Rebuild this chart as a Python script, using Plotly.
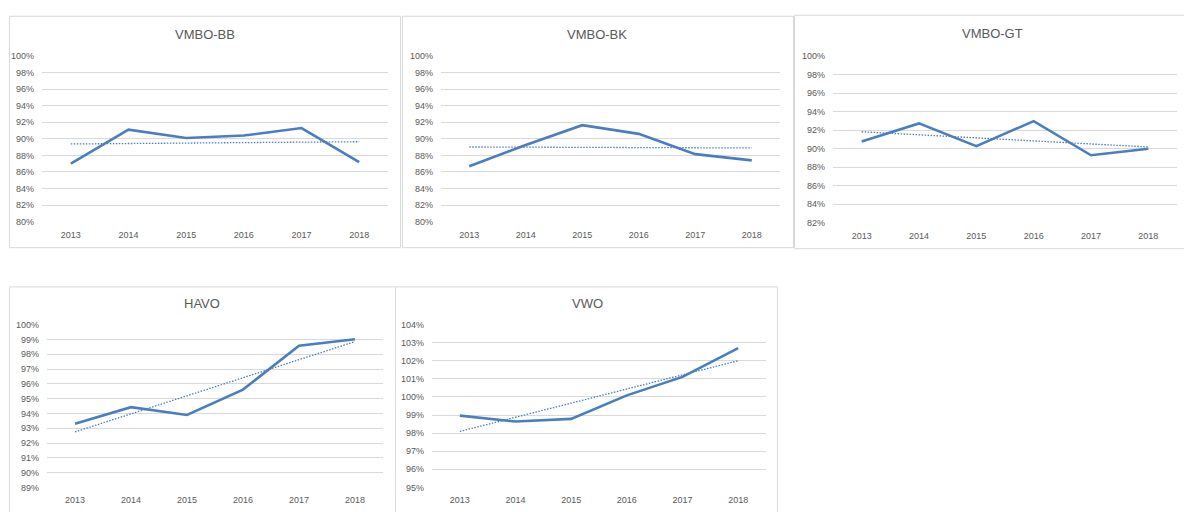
import numpy as np
import plotly.graph_objects as go

years = ["2013", "2014", "2015", "2016", "2017", "2018"]

titles = ["VMBO-BB", "VMBO-BK", "VMBO-GT", "HAVO", "VWO"]
vmbo_bb = [87.0, 91.1, 90.1, 90.4, 91.3, 87.2]
vmbo_bk = [86.7, 89.25, 91.65, 90.6, 88.15, 87.4]
vmbo_gt = [90.76, 92.72, 90.26, 92.97, 89.28, 89.98]
havo = [93.3, 94.42, 93.89, 95.61, 98.57, 99.01]
vwo = [98.97, 98.64, 98.79, 100.09, 101.11, 102.70]
series = [vmbo_bb, vmbo_bk, vmbo_gt, havo, vwo]

y_ranges = [(80, 100, 2), (80, 100, 2), (82, 100, 2), (89, 100, 1), (95, 104, 1)]

W, H = 1184, 512
plot_px = [(42, 388, 52, 221), (441, 780, 52, 221), (833, 1177, 52, 222),
           (47, 383, 326, 492), (432, 766, 326, 492)]
border_px = [(9.5, 400.5, 11.5, 247.5), (402.5, 793.5, 11.5, 247.5), (794.5, 1190, 10.5, 248.5),
             (9.5, 395.5, 287.5, 530), (395.5, 777.5, 287.5, 530)]
title_px = [(205, 30), (597, 30), (992, 29), (202, 304), (587, 304)]

LINE = "#4A7EBF"
GRID = "#D9D9D9"
TXT = "#595959"
FONT = "Liberation Sans"

fig = go.Figure()
layout = dict(width=W, height=H, margin=dict(l=0, r=0, t=0, b=0, pad=0),
              paper_bgcolor="white", plot_bgcolor="white", showlegend=False,
              font=dict(family=FONT, size=9, color=TXT))
shapes = []
annotations = []
xi = np.arange(len(years))
for i, vals in enumerate(series):
    k = "" if i == 0 else str(i + 1)
    x0, x1, yt, yb = plot_px[i]
    ymin, ymax, dt = y_ranges[i]
    slope, icpt = np.polyfit(xi, np.array(vals), 1)
    trend = slope * xi + icpt
    fig.add_trace(go.Scatter(x=years, y=trend, mode="lines", xaxis="x" + k, yaxis="y" + k,
                             line=dict(color=LINE, width=1.3, dash="1.5px,1.5px"), hoverinfo="skip"))
    fig.add_trace(go.Scatter(x=years, y=vals, mode="lines", xaxis="x" + k, yaxis="y" + k,
                             line=dict(color=LINE, width=2.6)))
    layout["xaxis" + k] = dict(domain=[x0 / W, x1 / W], anchor="y" + k, type="category",
                               range=[-0.5, 5.5], showgrid=False, zeroline=False, showline=False,
                               ticks="", ticklabelstandoff=6, tickfont=dict(size=9, color=TXT, family=FONT))
    layout["yaxis" + k] = dict(domain=[1 - yb / H, 1 - yt / H], anchor="x" + k,
                               range=[ymin, ymax], dtick=dt, tick0=ymin, ticksuffix="%",
                               showgrid=True, gridcolor=GRID, gridwidth=1, zeroline=False,
                               showline=False, ticks="", ticklabelstandoff=7,
                               tickfont=dict(size=9, color=TXT, family=FONT))
    bx0, bx1, by0, by1 = border_px[i]
    shapes.append(dict(type="rect", xref="paper", yref="paper", x0=bx0 / W, x1=bx1 / W,
                       y0=1 - by1 / H, y1=1 - by0 / H, line=dict(color=GRID, width=1), layer="below"))
    tx, ty = title_px[i]
    annotations.append(dict(text=titles[i], xref="paper", yref="paper", x=tx / W, y=1 - ty / H,
                            xanchor="center", yanchor="middle", showarrow=False,
                            font=dict(family=FONT, size=13, color=TXT)))

layout["shapes"] = shapes
layout["annotations"] = annotations
fig.update_layout(**layout)
fig.write_html("out.html", config={"displayModeBar": False},
               post_script="document.body.style.margin='0';document.body.style.overflow='hidden';")
